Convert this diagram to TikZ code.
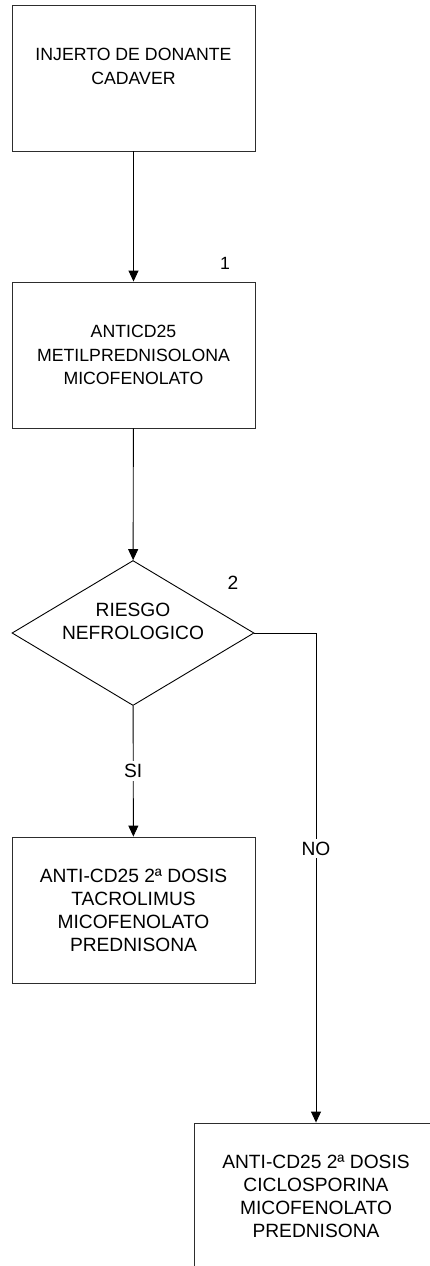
\documentclass[tikz,border=0pt]{standalone}
\usepackage{fontspec}
\setmainfont{Liberation Sans}
\usetikzlibrary{arrows.meta,shapes.geometric}
\definecolor{boxline}{RGB}{45, 45, 45}
\tikzset{
    box/.style={draw=boxline, line width=0.9pt, minimum width=243pt, minimum height=146pt, inner sep=0pt, align=center},
    tahoma/.style={font=\fontsize{17.7}{23.5}\selectfont},
    arial/.style={font=\fontsize{19.2}{23}\selectfont},
    decision/.style={diamond, draw=black, line width=0.9pt, minimum width=242pt, minimum height=145pt, aspect=1.67, inner sep=0pt, align=center},
    flow/.style={draw=black, line width=0.9pt, -{Triangle[width=10pt,length=11pt]}},
    tag/.style={fill=white, inner sep=3pt},
}

\begin{document}
\begin{tikzpicture}[x=1pt, y=-1pt]
            \useasboundingbox (0,0) rectangle (430,1266);
            \clip             (0,0) rectangle (430,1266);
            \node[box, tahoma]     (injerto) at (133.5,  78) {INJERTO DE DONANTE\\CADAVER\\\mbox{}};
            \node[box, tahoma]     (anticd)  at (133.5, 355) {ANTICD25\\METILPREDNISOLONA\\MICOFENOLATO};
            \node[decision, arial] (riesgo)  at (133.0, 633) {RIESGO\\NEFROLOGICO\\\mbox{}};
            \node[box, arial]      (tacro)   at (133.5, 910) {ANTI-CD25 2ª DOSIS\\TACROLIMUS\\MICOFENOLATO\\PREDNISONA};
            \node[box, arial, minimum width=244pt] (ciclo) at (316.0,1196) {ANTI-CD25 2ª DOSIS\\CICLOSPORINA\\MICOFENOLATO\\PREDNISONA};
            \node[tahoma] (paso1) at (225, 263) {1};
            \node[arial]  (paso2) at (233, 583) {2};
            \draw[flow] (injerto) -- (anticd);
            \draw[flow] (anticd)  -- (riesgo);
            \draw[flow] (riesgo)  -- node[tag, arial] {SI} (tacro);
            \draw[flow] (riesgo.east) -| node[tag, arial, pos=0.72] {NO} (ciclo);
\end{tikzpicture}
\end{document}
